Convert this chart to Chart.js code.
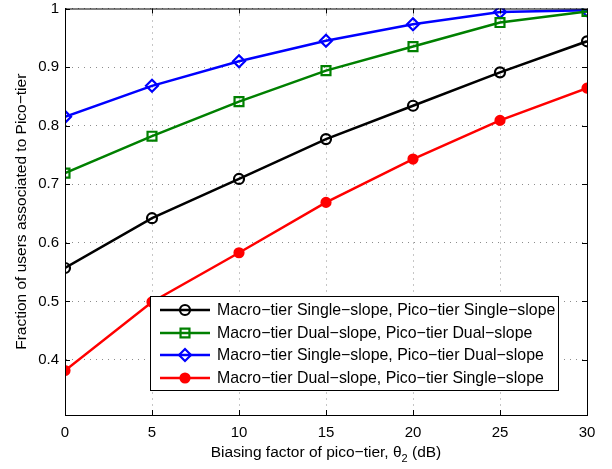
<!DOCTYPE html>
<html>
<head>
<meta charset="utf-8">
<script src="https://cdn.jsdelivr.net/npm/chart.js@4.4.0/dist/chart.umd.min.js"></script>
<style>
  html, body { margin: 0; padding: 0; background: #fff; }
  #wrap { width: 612px; height: 469px; }
</style>
</head>
<body>
<div id="wrap"><canvas id="chart" width="612" height="469"></canvas></div>
<script>
// --- data ---
const biasDb = [0, 5, 10, 15, 20, 25, 30];
const yTicks = [0.4, 0.5, 0.6, 0.7, 0.8, 0.9, 1];
const seriesNames = [
  'Macro\u2212tier Single\u2212slope, Pico\u2212tier Single\u2212slope',
  'Macro\u2212tier Dual\u2212slope, Pico\u2212tier Dual\u2212slope',
  'Macro\u2212tier Single\u2212slope, Pico\u2212tier Dual\u2212slope',
  'Macro\u2212tier Dual\u2212slope, Pico\u2212tier Single\u2212slope'
];
const singleSingle = [0.557, 0.642, 0.709, 0.777, 0.834, 0.891, 0.944];
const dualDual     = [0.719, 0.782, 0.841, 0.894, 0.935, 0.976, 0.995];
const singleDual   = [0.815, 0.868, 0.910, 0.945, 0.973, 0.994, 0.997];
const dualSingle   = [0.382, 0.499, 0.583, 0.669, 0.743, 0.809, 0.864];

const FONT = '"Liberation Sans", Arial, Helvetica, sans-serif';

// 線とマーカーの見た目
const styles = [
  { color: '#000000', pointStyle: 'circle',  radius: 5,   fill: 'rgba(0,0,0,0)' },
  { color: '#008000', pointStyle: 'rect',    radius: 6.3, fill: 'rgba(0,0,0,0)' },
  { color: '#0000ff', pointStyle: 'rectRot', radius: 6,   fill: 'rgba(0,0,0,0)' },
  { color: '#ff0000', pointStyle: 'circle',  radius: 4.5, fill: '#ff0000' }
];
const values = [singleSingle, dualDual, singleDual, dualSingle];

const datasets = values.map((vals, i) => ({
  label: seriesNames[i],
  data: biasDb.map((x, j) => ({ x: x, y: vals[j] })),
  borderColor: styles[i].color,
  backgroundColor: styles[i].fill,
  borderWidth: 2.5,
  pointStyle: styles[i].pointStyle,
  pointRadius: styles[i].radius,
  pointBorderWidth: 2.2,
  pointBorderColor: styles[i].color,
  pointBackgroundColor: styles[i].fill,
  tension: 0
}));

// frame, inward ticks, legend and axis titles
const decorPlugin = {
  id: 'decor',
  afterDraw(chart) {
    const ctx = chart.ctx;
    const a = chart.chartArea;
    const xs = chart.scales.x, ys = chart.scales.y;
    ctx.save();
    ctx.strokeStyle = '#000';
    ctx.lineWidth = 1;
    ctx.strokeRect(a.left + 0.5, a.top + 0.5, a.right - a.left, a.bottom - a.top);
    const tl = 5;
    ctx.beginPath();
    biasDb.forEach(v => {
      const px = Math.round(xs.getPixelForValue(v)) + 0.5;
      ctx.moveTo(px, a.bottom); ctx.lineTo(px, a.bottom - tl);
      ctx.moveTo(px, a.top); ctx.lineTo(px, a.top + tl);
    });
    yTicks.forEach(v => {
      const py = Math.round(ys.getPixelForValue(v)) + 0.5;
      ctx.moveTo(a.left, py); ctx.lineTo(a.left + tl, py);
      ctx.moveTo(a.right, py); ctx.lineTo(a.right - tl, py);
    });
    ctx.stroke();

    // legend
    const lx = 150, ly = 296, lw = 408, lh = 94;
    ctx.fillStyle = '#fff';
    ctx.fillRect(lx, ly, lw, lh);
    ctx.strokeRect(lx + 0.5, ly + 0.5, lw, lh);
    const rows = [310, 333, 355, 378];
    ctx.font = '15.9px ' + FONT;
    ctx.textBaseline = 'middle';
    ctx.textAlign = 'left';
    styles.forEach((s, i) => {
      ctx.strokeStyle = s.color;
      ctx.lineWidth = 2.5;
      ctx.beginPath();
      ctx.moveTo(160, rows[i]); ctx.lineTo(210, rows[i]);
      ctx.stroke();
      ctx.fillStyle = s.fill;
      ctx.lineWidth = 2.2;
      Chart.helpers.drawPoint(ctx, { pointStyle: s.pointStyle, radius: s.radius, rotation: 0, borderWidth: 2.2 }, 185, rows[i]);
      ctx.fillStyle = '#000';
      ctx.fillText(seriesNames[i], 217, rows[i] + 1);
    });

    // x title with subscript
    ctx.fillStyle = '#000';
    ctx.textBaseline = 'alphabetic';
    const main = 'Biasing factor of pico\u2212tier, \u03b8';
    const tail = ' (dB)';
    ctx.font = '15.5px ' + FONT;
    const w1 = ctx.measureText(main).width;
    const w3 = ctx.measureText(tail).width;
    ctx.font = '11px ' + FONT;
    const w2 = ctx.measureText('2').width;
    const cx = (a.left + a.right) / 2;
    let x0 = cx - (w1 + w2 + w3) / 2;
    const base = 457;
    ctx.font = '15.5px ' + FONT;
    ctx.fillText(main, x0, base);
    ctx.font = '11px ' + FONT;
    ctx.fillText('2', x0 + w1, base + 5);
    ctx.font = '15.5px ' + FONT;
    ctx.fillText(tail, x0 + w1 + w2, base);

    // y title
    ctx.translate(22, (a.top + a.bottom) / 2);
    ctx.rotate(-Math.PI / 2);
    ctx.textAlign = 'center';
    ctx.textBaseline = 'middle';
    ctx.fillText('Fraction of users associated to Pico\u2212tier', 0, 0);
    ctx.restore();
  }
};

const gridStyle = {
  color: 'rgba(0,0,0,0.45)',
  lineWidth: 1,
  drawTicks: false
};

new Chart(document.getElementById('chart').getContext('2d'), {
  type: 'line',
  data: { datasets: datasets },
  options: {
    responsive: false,
    animation: false,
    layout: { padding: { top: 8, right: 25, left: 0, bottom: 0 } },
    plugins: { legend: { display: false }, tooltip: { enabled: false } },
    scales: {
      x: {
        type: 'linear',
        min: 0, max: 30,
        ticks: { stepSize: 5, color: '#000', font: { family: FONT, size: 15 }, padding: 9, maxRotation: 0 },
        grid: gridStyle,
        border: { display: true, color: '#000', dash: [1, 5] },
        afterFit: s => { s.height = 54; s.paddingLeft = 0; s.paddingRight = 0; }
      },
      y: {
        min: 0.306, max: 1,
        afterBuildTicks: s => { s.ticks = yTicks.map(v => ({ value: v })); },
        ticks: {
          color: '#000', font: { family: FONT, size: 15, lineHeight: 1 }, padding: 6,
          callback: v => (v === 1 ? '1' : v.toFixed(1))
        },
        grid: gridStyle,
        border: { display: true, color: '#000', dash: [1, 5] },
        afterFit: s => { s.width = 65; s.paddingTop = 0; s.paddingBottom = 0; }
      }
    }
  },
  plugins: [decorPlugin]
});
</script>
</body>
</html>
